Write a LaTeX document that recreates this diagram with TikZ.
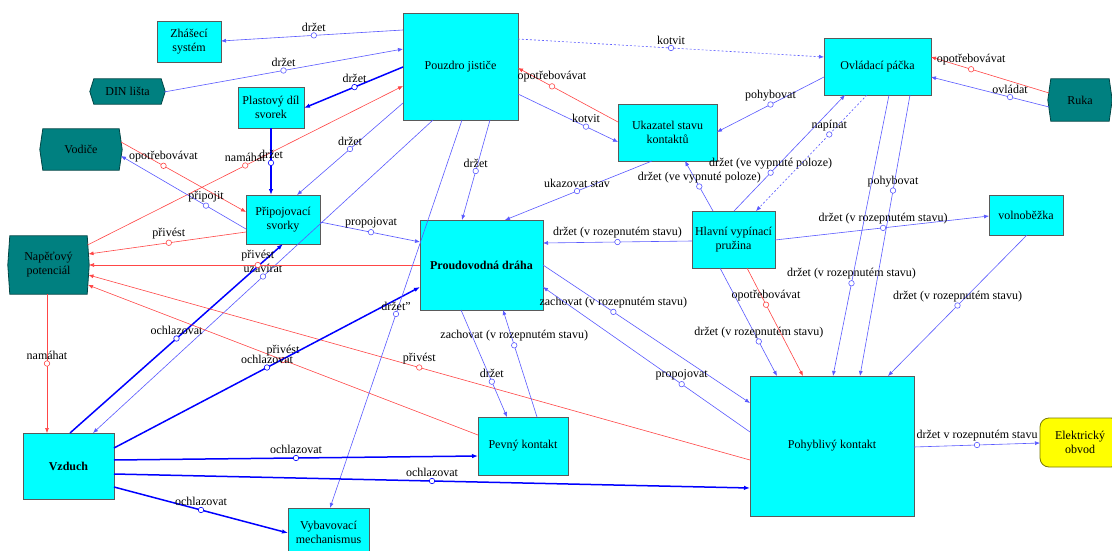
\documentclass[tikz,border=0pt]{standalone}
\usepackage{fontspec}
\setmainfont{Liberation Serif}
\usetikzlibrary{arrows.meta}
\pgfdeclarelayer{background}
\pgfsetlayers{background,main}
\definecolor{cy}{RGB}{0,255,255}
\definecolor{tl}{RGB}{0,128,128}
\definecolor{tlb}{RGB}{0,70,70}
\definecolor{bx}{RGB}{90,90,90}
\definecolor{bl}{RGB}{0,0,255}
\definecolor{lb}{RGB}{90,90,255}
\definecolor{rd}{RGB}{255,70,70}
\definecolor{yl}{RGB}{255,255,0}
\definecolor{ylb}{RGB}{120,120,0}
\begin{document}
\begin{tikzpicture}[x=1pt,y=-1pt,
  every node/.style={font=\fontsize{12}{14}\selectfont},
  box/.style={draw=bx,fill=cy,line width=0.8pt,inner sep=1pt,align=center,text=black},
  tnode/.style={draw=none,fill=none,inner sep=1pt,align=center,text=black},
  tshape/.style={fill=tl,draw=tlb,line width=0.8pt},
  elbox/.style={draw=ylb,fill=yl,line width=0.8pt,rounded corners=9pt,inner sep=1pt,align=center,text=black},
  cn/.style={color=lb,line width=0.6pt,-{Latex[length=5pt,width=4pt]}},
  ck/.style={color=bl,line width=1.5pt,-{Latex[length=6pt,width=4.5pt]}},
  cr/.style={color=rd,line width=0.6pt,-{Latex[length=5pt,width=4pt]}},
  dsh/.style={dash pattern=on 2pt off 2pt},
  mk/.style={circle,draw,fill=white,inner sep=0pt,minimum size=5.5pt,line width=0.6pt,label distance=1pt},
  lab/.style={text=black,inner sep=0.5pt,font=\fontsize{12}{14}\selectfont}
]
\useasboundingbox (0,0) rectangle (1112,551);

% nodes
\node[box,minimum width=64pt,minimum height=41pt] (zh) at (189,41.5) {Zhášecí\\systém};
\node[tnode,minimum width=67pt,minimum height=25pt] (din) at (127.5,91.5) {DIN lišta};
\node[box,minimum width=66pt,minimum height=41pt] (pl) at (271,107.5) {Plastový díl\\svorek};
\node[tnode,minimum width=76pt,minimum height=41pt] (vod) at (81,149.5) {Vodiče};
\node[box,minimum width=115pt,minimum height=107pt] (pz) at (460.5,66.5) {Pouzdro jističe};
\node[box,minimum width=99pt,minimum height=57pt] (uk) at (667.5,132.5) {Ukazatel stavu\\kontaktů};
\node[box,minimum width=107pt,minimum height=57pt] (ov) at (877.5,66.5) {Ovládací páčka};
\node[tnode,minimum width=58pt,minimum height=42pt] (ruka) at (1080,100) {Ruka};
\node[box,minimum width=74pt,minimum height=49pt] (pr) at (283,219.5) {Připojovací\\svorky};
\node[tnode,minimum width=77pt,minimum height=58pt] (nap) at (48.5,265) {Napěťový\\potenciál};
\node[box,minimum width=123pt,minimum height=90pt,font=\fontsize{12}{14}\selectfont\bfseries] (pd) at (481.5,265) {Proudovodná dráha};
\node[box,minimum width=83pt,minimum height=57pt] (hv) at (733.5,239.5) {Hlavní vypínací\\pružina};
\node[box,minimum width=74pt,minimum height=40pt] (vol) at (1026,215) {volnoběžka};
\node[box,minimum width=91pt,minimum height=66pt,font=\fontsize{12}{14}\selectfont\bfseries] (vz) at (68.5,466) {Vzduch};
\node[box,minimum width=90pt,minimum height=58pt] (pev) at (523,446) {Pevný kontakt};
\node[box,minimum width=164pt,minimum height=140pt] (poh) at (832,446) {Pohyblivý kontakt};
\node[elbox,minimum width=80pt,minimum height=49pt] (el) at (1080,442.5) {Elektrický\\obvod};
\node[box,minimum width=81pt,minimum height=49pt] (vyb) at (328.5,532.5) {Vybavovací\\mechanismus};

\begin{pgfonlayer}{background}
\fill[white] (0,0) rectangle (1112,551);
\foreach \n/\p in {din/4,vod/3,nap/2,ruka/3}{
  \filldraw[tshape] (\n.north west) -- (\n.north east) -- ([xshift=\p pt]\n.east) -- (\n.south east) -- (\n.south west) -- ([xshift=-\p pt]\n.west) -- cycle;}
\end{pgfonlayer}

% connectors
\draw[cn] ([shift={(-57.5,-36.5)}]pz.center) -- node[mk,pos=.49,label={[lab]above:držet}]{} ([shift={(32,-0.5)}]zh.center);
\draw[cn] ([shift={(36.5,0.5)}]din.center) -- node[mk,pos=.50,label={[lab]above:držet}]{} ([shift={(-57.5,-17.5)}]pz.center);
\draw[ck] ([shift={(-57.5,0.5)}]pz.center) -- node[mk,pos=.49,label={[lab]above:držet}]{} ([shift={(33,0.5)}]pl.center);
\draw[cr] ([shift={(39,-20)}]nap.center) -- node[mk,pos=.50,label={[lab]above:namáhat}]{} ([shift={(-57.5,19.5)}]pz.center);
\draw[cr] ([shift={(40,-7.5)}]vod.center) -- node[mk,pos=.34,label={[lab]above:opotřebovávat}]{} ([shift={(-37,-7.5)}]pr.center);
\draw[cn] ([shift={(-37,9.5)}]pr.center) -- node[mk,pos=.32,label={[lab]above:připojit}]{} ([shift={(40,6.5)}]vod.center);
\draw[ck] ([shift={(0,20.5)}]pl.center) -- node[mk,pos=.52,label={[lab]above:držet}]{} ([shift={(-12,-24.5)}]pr.center);
\draw[cn] ([shift={(-57.5,36.5)}]pz.center) -- node[mk,pos=.50,label={[lab]above:držet}]{} ([shift={(14,-24.5)}]pr.center);
\draw[cn] ([shift={(-27.5,53.5)}]pz.center) -- node[mk,pos=.50,label={[lab]above:uzavírat}]{} ([shift={(24.5,-33)}]vz.center);
\draw[ck] ([shift={(1.5,-33)}]vz.center) -- node[mk,pos=.50,label={[lab]above:ochlazovat}]{} ([shift={(0,24.5)}]pr.center);
\draw[cr] ([shift={(-37,12.5)}]pr.center) -- node[mk,pos=.49,label={[lab]above:přivést}]{} ([shift={(40,-11)}]nap.center);
\draw[cr] ([shift={(-61.5,0)}]pd.center) -- node[mk,pos=.49,label={[lab]above:přivést}]{} ([shift={(40.5,0)}]nap.center);
\draw[cr] ([shift={(-82,14)}]poh.center) -- node[mk,pos=.50,label={[lab]above:přivést}]{} ([shift={(40,10)}]nap.center);
\draw[cr] ([shift={(-45,-11)}]pev.center) -- node[mk,pos=.50,label={[lab]above:přivést}]{} ([shift={(39.5,20)}]nap.center);
\draw[ck] ([shift={(45.5,-18)}]vz.center) -- node[mk,pos=.50,label={[lab]above:ochlazovat}]{} ([shift={(-61.5,22)}]pd.center);
\draw[cn] ([shift={(1.5,53.5)}]pz.center) -- node[mk,pos=.50,label={[lab]above:držet"}]{} ([shift={(1.5,-24.5)}]vyb.center);
\draw[cn] ([shift={(29.5,53.5)}]pz.center) -- node[mk,pos=.51,label={[lab]above:držet}]{} ([shift={(-19.5,-45)}]pd.center);
\draw[cn] ([shift={(57.5,27.5)}]pz.center) -- node[mk,pos=.68,label={[lab]above:kotvit}]{} ([shift={(-49.5,9.5)}]uk.center);
\draw[cr] ([shift={(-49.5,-10.5)}]uk.center) -- node[mk,pos=.66,label={[lab]above:opotřebovávat}]{} ([shift={(57.5,1.5)}]pz.center);
\draw[cn,dsh] ([shift={(57.5,-27.5)}]pz.center) -- node[mk,solid,pos=.50,label={[lab]above:kotvit}]{} ([shift={(-53.5,-9.5)}]ov.center);
\draw[cn] ([shift={(-53.5,10.5)}]ov.center) -- node[mk,pos=.50,label={[lab]above:pohybovat}]{} ([shift={(49.5,-0.5)}]uk.center);
\draw[cn] ([shift={(-15.5,28.5)}]uk.center) -- node[mk,pos=.51,label={[lab]above:ukazovat stav}]{} ([shift={(23.5,-45)}]pd.center);
\draw[cn] ([shift={(-20.5,-28.5)}]hv.center) -- node[mk,pos=.49,label={[lab]above:držet (ve vypnuté poloze)}]{} ([shift={(17.5,28.5)}]uk.center);
\draw[cn] ([shift={(0.5,-28.5)}]hv.center) -- node[mk,pos=.33,label={[lab]above:držet (ve vypnuté poloze)}]{} ([shift={(-32.5,28.5)}]ov.center);
\draw[cn,dsh] ([shift={(-10.5,28.5)}]ov.center) -- node[mk,solid,pos=.34,label={[lab]above:napínat}]{} ([shift={(22.5,-28.5)}]hv.center);
\draw[cr] ([shift={(-31,-7)}]ruka.center) -- node[mk,pos=.66,label={[lab]above:opotřebovávat}]{} ([shift={(53.5,-9.5)}]ov.center);
\draw[cn] ([shift={(-31,7)}]ruka.center) -- node[mk,pos=.33,label={[lab]above:ovládat}]{} ([shift={(53.5,10.5)}]ov.center);
\draw[cn] ([shift={(32.5,28.5)}]ov.center) -- node[mk,pos=.34,label={[lab]above:pohybovat}]{} ([shift={(28,-70)}]poh.center);
\draw[cn] ([shift={(11.5,28.5)}]ov.center) -- node[mk,pos=.67,label={[lab]above:držet (v rozepnutém stavu)}]{} ([shift={(1,-70)}]poh.center);
\draw[cn] ([shift={(41.5,0.5)}]hv.center) -- node[mk,pos=.505,label={[lab]above:držet (v rozepnutém stavu)}]{} ([shift={(-37,1)}]vol.center);
\draw[cn] ([shift={(1,20)}]vol.center) -- node[mk,pos=.50,label={[lab]above:držet (v rozepnutém stavu)}]{} ([shift={(56,-70)}]poh.center);
\draw[cn] ([shift={(-13.5,28.5)}]hv.center) -- node[mk,pos=.68,label={[lab]above:držet (v rozepnutém stavu)}]{} ([shift={(-55,-70)}]poh.center);
\draw[cr] ([shift={(13.5,28.5)}]hv.center) -- node[mk,pos=.34,label={[lab]above:opotřebovávat}]{} ([shift={(-29,-70)}]poh.center);
\draw[cn] ([shift={(-41.5,1.5)}]hv.center) -- node[mk,pos=.50,label={[lab]above:držet (v rozepnutém stavu)}]{} ([shift={(61.5,-22)}]pd.center);
\draw[cn] ([shift={(61.5,0)}]pd.center) -- node[mk,pos=.34,label={[lab]above:zachovat (v rozepnutém stavu)}]{} ([shift={(-82,-43)}]poh.center);
\draw[cn] ([shift={(-82,-14)}]poh.center) -- node[mk,pos=.33,label={[lab]above:propojovat}]{} ([shift={(61.5,22)}]pd.center);
\draw[cn] ([shift={(37,2.5)}]pr.center) -- node[mk,pos=.51,label={[lab]above:propojovat}]{} ([shift={(-61.5,-23)}]pd.center);
\draw[cn] ([shift={(14,-29)}]pev.center) -- node[mk,pos=.67,label={[lab]above:zachovat (v rozepnutém stavu)}]{} ([shift={(21.5,45)}]pd.center);
\draw[cn] ([shift={(-20.5,45)}]pd.center) -- node[mk,pos=.67,label={[lab]above:držet}]{} ([shift={(-16,-29)}]pev.center);
\draw[ck] ([shift={(45.5,-6)}]vz.center) -- node[mk,pos=.50,label={[lab]above:ochlazovat}]{} ([shift={(-45,10)}]pev.center);
\draw[ck] ([shift={(45.5,8)}]vz.center) -- node[mk,pos=.50,label={[lab]above:ochlazovat}]{} ([shift={(-82,42)}]poh.center);
\draw[ck] ([shift={(45.5,21)}]vz.center) -- node[mk,pos=.50,label={[lab]above:ochlazovat}]{} ([shift={(-40.5,0.5)}]vyb.center);
\draw[cr] ([shift={(-1.5,29)}]nap.center) -- node[mk,pos=.50,label={[lab]above:namáhat}]{} ([shift={(-21.5,-33)}]vz.center);
\draw[cn] ([shift={(82,1)}]poh.center) -- node[mk,pos=.50,label={[lab]above:držet v rozepnutém stavu}]{} ([shift={(-40,0.5)}]el.center);
\end{tikzpicture}
\end{document}
